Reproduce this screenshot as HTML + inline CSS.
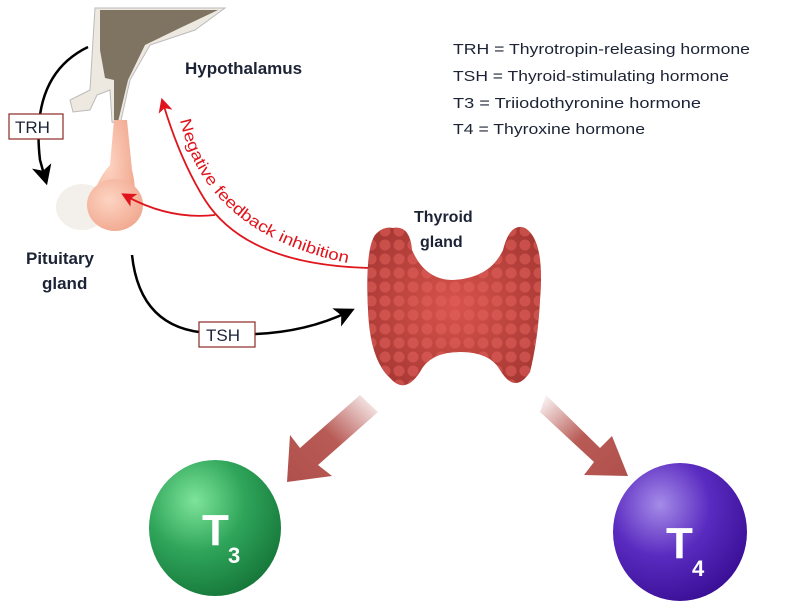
<!DOCTYPE html>
<html><head><meta charset="utf-8"><style>html,body{margin:0;padding:0;background:#fff}svg{display:block}</style></head>
<body>
<svg width="800" height="613" viewBox="0 0 800 613" xmlns="http://www.w3.org/2000/svg" font-family="Liberation Sans, sans-serif">
<defs>
<radialGradient id="g3" cx="0.35" cy="0.3" r="0.75"><stop offset="0" stop-color="#7de49a"/><stop offset="0.5" stop-color="#2fa55a"/><stop offset="1" stop-color="#16773a"/></radialGradient>
<radialGradient id="g4" cx="0.35" cy="0.3" r="0.75"><stop offset="0" stop-color="#a58be8"/><stop offset="0.5" stop-color="#5a2bc0"/><stop offset="1" stop-color="#3a0f96"/></radialGradient>
<radialGradient id="gt" cx="0.5" cy="0.5" r="0.6"><stop offset="0" stop-color="#d8544c"/><stop offset="1" stop-color="#a83834"/></radialGradient>
<radialGradient id="gp" cx="0.4" cy="0.4" r="0.7"><stop offset="0" stop-color="#fdd4c2"/><stop offset="1" stop-color="#f0a58c"/></radialGradient>
<linearGradient id="al" x1="1" y1="0" x2="0" y2="1"><stop offset="0" stop-color="#b85a55" stop-opacity="0"/><stop offset="0.5" stop-color="#b85a55"/><stop offset="1" stop-color="#b0504c"/></linearGradient>
<linearGradient id="ar" x1="0" y1="0" x2="1" y2="1"><stop offset="0" stop-color="#b85a55" stop-opacity="0"/><stop offset="0.5" stop-color="#b85a55"/><stop offset="1" stop-color="#b0504c"/></linearGradient>
<pattern id="cells" width="14" height="14" patternUnits="userSpaceOnUse"><circle cx="7" cy="7" r="5.5" fill="#e2605a" opacity="0.55"/></pattern>
<marker id="mk" markerWidth="8" markerHeight="8" refX="5" refY="4" orient="auto"><path d="M0,0 L8,4 L0,8 L2,4Z" fill="#000"/></marker>
<marker id="mr" markerWidth="8" markerHeight="8" refX="5" refY="4" orient="auto"><path d="M0,0 L8,4 L0,8 L2,4Z" fill="#e0141c"/></marker>
</defs>

<path d="M95,8 L225,8 L195,30 L150,45 L130,80 L120,125 L112,122 L110,90 L97,95 L90,110 L73,112 L70,100 L90,90 L93,40 Z" fill="#ede8e0" stroke="#bbb" stroke-width="1"/>
<path d="M100,10 L218,10 L180,28 L145,45 L128,80 L118,122 L114,120 L114,80 L105,78 L100,50 Z" fill="#7f7362"/>
<path d="M114,120 L127,120 L132,170 Q140,200 125,225 Q100,235 90,215 Q92,185 110,165 Z" fill="url(#gp)"/>
<ellipse cx="82" cy="207" rx="26" ry="23" fill="#f3efea"/>
<ellipse cx="115" cy="205" rx="28" ry="26" fill="url(#gp)"/>

<text x="185" y="74" font-size="17" font-weight="bold" fill="#1b2335">Hypothalamus</text>
<text x="26" y="264" font-size="17" font-weight="bold" fill="#1b2335">Pituitary</text>
<text x="42" y="289" font-size="17" font-weight="bold" fill="#1b2335">gland</text>
<text x="414" y="222" font-size="16" font-weight="bold" fill="#1b2335">Thyroid</text>
<text x="420" y="247" font-size="16" font-weight="bold" fill="#1b2335">gland</text>

<g font-size="15" fill="#1b2335">
<text x="453" y="54" textLength="297" lengthAdjust="spacingAndGlyphs">TRH = Thyrotropin-releasing hormone</text>
<text x="453" y="81" textLength="276" lengthAdjust="spacingAndGlyphs">TSH = Thyroid-stimulating hormone</text>
<text x="453" y="108" textLength="248" lengthAdjust="spacingAndGlyphs">T3 = Triiodothyronine hormone</text>
<text x="453" y="134" textLength="192" lengthAdjust="spacingAndGlyphs">T4 = Thyroxine hormone</text>
</g>

<path d="M88,47 Q30,75 40,160 L45,178" fill="none" stroke="#000" stroke-width="2.5" marker-end="url(#mk)"/>
<rect x="9" y="114" width="54" height="25" fill="#fff" stroke="#8b2a24" stroke-width="1.2"/>
<text x="15" y="133" font-size="17" fill="#1b2335">TRH</text>
<path d="M132,255 Q140,330 210,333 Q290,340 348,312" fill="none" stroke="#000" stroke-width="2.5" marker-end="url(#mk)"/>
<rect x="199" y="322" width="56" height="25" fill="#fff" stroke="#8b2a24" stroke-width="1.2"/>
<text x="206" y="341" font-size="17" fill="#1b2335">TSH</text>

<path d="M388,268 Q250,270 205,200 Q180,160 163,103" fill="none" stroke="#e0141c" stroke-width="1.8" marker-end="url(#mr)"/>
<path d="M215,215 Q170,220 126,196" fill="none" stroke="#e0141c" stroke-width="1.8" marker-end="url(#mr)"/>
<path id="fb" d="M180,120 Q205,235 352,264" fill="none"/>
<text font-size="16" fill="#e0141c"><textPath href="#fb" textLength="235" lengthAdjust="spacingAndGlyphs">Negative feedback inhibition</textPath></text>

<g>
<path d="M393,228 Q410,225 412,250 Q425,280 453,280 Q490,278 503,250 Q510,222 525,228 Q545,240 540,300 Q538,340 530,372 Q515,395 500,370 Q490,352 460,352 Q430,352 420,372 Q405,395 390,378 Q370,360 368,310 Q365,250 375,235 Q383,226 393,228 Z" fill="url(#gt)"/>
<path d="M393,228 Q410,225 412,250 Q425,280 453,280 Q490,278 503,250 Q510,222 525,228 Q545,240 540,300 Q538,340 530,372 Q515,395 500,370 Q490,352 460,352 Q430,352 420,372 Q405,395 390,378 Q370,360 368,310 Q365,250 375,235 Q383,226 393,228 Z" fill="url(#cells)"/>
</g>

<path d="M360,395 L300,448 L290,435 L287,482 L332,476 L318,465 L378,412 Z" fill="url(#al)"/>
<path d="M546,395 L600,448 L612,436 L628,476 L584,475 L594,462 L540,412 Z" fill="url(#ar)"/>

<ellipse cx="215" cy="528" rx="66" ry="68" fill="url(#g3)"/>
<ellipse cx="680" cy="532" rx="67" ry="69" fill="url(#g4)"/>
<text x="202" y="545" font-size="44" font-weight="bold" fill="#fff">T</text>
<text x="228" y="563" font-size="22" font-weight="bold" fill="#fff">3</text>
<text x="666" y="558" font-size="44" font-weight="bold" fill="#fff">T</text>
<text x="692" y="576" font-size="22" font-weight="bold" fill="#fff">4</text>
</svg>
</body></html>
